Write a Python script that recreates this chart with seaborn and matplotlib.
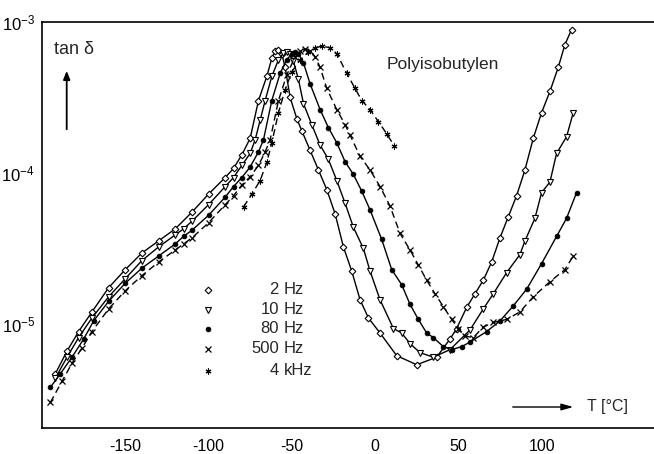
import numpy as np
import pandas as pd
import matplotlib
matplotlib.use("Agg")
import matplotlib.pyplot as plt
import seaborn as sns

sns.set_theme(style="white")
plt.rcParams["font.family"] = ["Liberation Sans", "DejaVu Sans"]
plt.rcParams["axes.unicode_minus"] = False

# ---- data: temperature [°C] and log10(tan delta) ----
T_2hz = [-192, -185, -178, -170, -160, -150, -140, -130, -120, -110, -100, -90, -85, -80,
         -75, -70, -65, -62, -60, -58, -56, -54, -51, -47, -44, -39, -34, -29, -24, -19, -14, -9,
         -4, 3, 13, 25, 37, 45, 49, 55, 60, 65, 70, 75, 80, 85, 90, 95, 100, 105, 110, 114, 118]
lg_2hz = [-5.33, -5.18, -5.05, -4.92, -4.76, -4.64, -4.53, -4.45, -4.37, -4.26, -4.14, -4.03, -3.97, -3.88,
          -3.77, -3.52, -3.36, -3.24, -3.195, -3.185, -3.21, -3.30, -3.50, -3.64, -3.72, -3.85, -3.98, -4.11, -4.27, -4.49, -4.65, -4.84,
          -4.96, -5.06, -5.21, -5.27, -5.22, -5.10, -5.03, -4.89, -4.80, -4.71, -4.59, -4.43, -4.29, -4.15, -3.98, -3.77,
          -3.60, -3.46, -3.30, -3.15, -3.05]

T_10hz = [-192, -185, -178, -170, -160, -150, -140, -130, -120, -115, -110, -100, -90, -85, -80, -75,
          -72, -69, -66, -62, -58, -55, -53, -51, -49, -46, -43, -38, -33, -28, -23, -18, -13, -7, -3, 3, 11,
          16, 21, 27, 35, 45, 57, 65, 71, 79, 87, 90, 96, 100, 105, 109, 115, 119]
lg_10hz = [-5.36, -5.22, -5.09, -4.96, -4.82, -4.70, -4.58, -4.49, -4.41, -4.37, -4.32, -4.21, -4.09, -4.03, -3.95, -3.87,
           -3.78, -3.65, -3.52, -3.36, -3.25, -3.205, -3.20, -3.21, -3.26, -3.38, -3.54, -3.68, -3.815, -3.91, -4.05, -4.20, -4.36, -4.50, -4.65, -4.84, -5.03,
           -5.06, -5.13, -5.19, -5.22, -5.17, -5.04, -4.90, -4.80, -4.66, -4.54, -4.45, -4.30, -4.13, -4.06, -3.87, -3.76, -3.60]

T_80hz = [-195, -189, -182, -175, -169, -160, -150, -140, -130, -120, -115, -110, -100, -90, -85, -80,
          -75, -70, -67, -62, -57, -53, -50, -48, -46, -43, -39, -33, -28, -23, -18, -13, -8, -3, 4, 10, 16,
          21, 26, 31, 35, 41, 46, 52, 57, 67, 75, 83, 91, 100, 109, 115, 121]
lg_80hz = [-5.42, -5.33, -5.22, -5.10, -4.98, -4.85, -4.73, -4.63, -4.55, -4.47, -4.42, -4.38, -4.28, -4.16, -4.09, -4.03,
           -3.96, -3.86, -3.78, -3.52, -3.34, -3.25, -3.21, -3.20, -3.21, -3.27, -3.41, -3.58, -3.70, -3.80, -3.925, -4.01, -4.12, -4.245, -4.44, -4.64, -4.74,
           -4.87, -4.97, -5.06, -5.09, -5.15, -5.17, -5.15, -5.12, -5.05, -4.98, -4.88, -4.77, -4.60, -4.42, -4.30, -4.13]

T_500hz = [-195, -188, -182, -176, -170, -160, -150, -140, -130, -120, -115, -110, -100, -90, -85, -80,
           -75, -70, -66, -63, -58, -53, -48, -45, -42, -39, -36, -33, -29, -23, -18, -15, -9, -3, 3, 9, 15,
           21, 26, 31, 36, 41, 46, 50, 54, 59, 65, 71, 79, 87, 95, 105, 114, 119]
lg_500hz = [-5.52, -5.38, -5.26, -5.16, -5.05, -4.90, -4.78, -4.68, -4.59, -4.51, -4.47, -4.43, -4.33, -4.21, -4.15, -4.08,
            -4.025, -3.95, -3.86, -3.78, -3.52, -3.35, -3.23, -3.19, -3.18, -3.19, -3.23, -3.30, -3.44, -3.58, -3.68, -3.75, -3.89, -3.98, -4.09, -4.22, -4.40,
            -4.51, -4.61, -4.71, -4.80, -4.885, -4.97, -5.03, -5.08, -5.09, -5.02, -4.99, -4.97, -4.92, -4.82, -4.72, -4.64, -4.55]

T_4khz = [-79, -74, -69, -65, -62, -58, -54, -50, -45, -40, -36, -32, -27, -23, -17, -12, -8, -3, 2, 7, 11.5]
lg_4khz = [-4.225, -4.14, -4.05, -3.93, -3.80, -3.60, -3.45, -3.33, -3.25, -3.20, -3.17, -3.16, -3.17, -3.21,
           -3.34, -3.44, -3.52, -3.58, -3.66, -3.74, -3.82]

freq_labels = ["2 Hz", "10 Hz", "80 Hz", "500 Hz", "4 kHz"]
x_ticks = [-150, -100, -50, 0, 50, 100]
y_ticks = [1e-5, 1e-4, 1e-3]
y_ticklabels = [r"$\mathregular{10^{-5}}$", r"$\mathregular{10^{-4}}$", r"$\mathregular{10^{-3}}$"]

series = {
    "2 Hz": (T_2hz, lg_2hz),
    "10 Hz": (T_10hz, lg_10hz),
    "80 Hz": (T_80hz, lg_80hz),
    "500 Hz": (T_500hz, lg_500hz),
    "4 kHz": (T_4khz, lg_4khz),
}
rows = []
for lab, (ts, ls) in series.items():
    for t, l in zip(ts, ls):
        rows.append({"T": t, "tan": 10.0 ** l, "freq": lab})
df = pd.DataFrame(rows)

styles = {
    "2 Hz": dict(marker="D", ms=3.4, mfc="white", mec="black", mew=0.8, linestyle="-"),
    "10 Hz": dict(marker="v", ms=4.6, mfc="white", mec="black", mew=0.8, linestyle="-"),
    "80 Hz": dict(marker="o", ms=3.4, mfc="black", mec="black", mew=0.6, linestyle="-"),
    "500 Hz": dict(marker="x", ms=3.8, mfc="black", mec="black", mew=0.9, linestyle=(0, (5, 3))),
    "4 kHz": dict(marker=(6, 2, 0), ms=4.2, mfc="black", mec="black", mew=0.8, linestyle=(0, (5, 3))),
}

fig = plt.figure(figsize=(6.54, 4.54), dpi=100)
ax = fig.add_axes([42 / 654, 1 - 428 / 454, 1 - 42 / 654, (428 - 22) / 454])

for lab in freq_labels:
    sub = df[df["freq"] == lab]
    sns.lineplot(data=sub, x="T", y="tan", ax=ax, color="black", lw=1.0,
                 sort=False, estimator=None, legend=False, **styles[lab])

ax.set_yscale("log")
ax.set_xlim(-200, 167.5)
ax.set_ylim(10 ** -5.689, 1e-3)
ax.set_xticks(x_ticks)
ax.set_xticklabels([str(v) for v in x_ticks], fontsize=11.5)
ax.set_yticks(y_ticks)
ax.set_yticklabels(y_ticklabels, fontsize=12)
ax.yaxis.set_minor_locator(matplotlib.ticker.NullLocator())
ax.tick_params(axis="both", which="major", direction="out", length=3, width=1.0,
               colors="black", pad=2)
ax.tick_params(axis="x", pad=5)
ax.set_xlabel("")
ax.set_ylabel("")
for side in ["left", "top", "bottom"]:
    ax.spines[side].set_visible(True)
    ax.spines[side].set_color("black")
    ax.spines[side].set_linewidth(1.2)
ax.spines["right"].set_visible(False)
ax.grid(False)

# manual legend: marker, number right aligned, unit left aligned
leg_y = [0.340, 0.291, 0.244, 0.195, 0.141]
for lab, yy in zip(freq_labels, leg_y):
    st = dict(styles[lab])
    st.pop("linestyle")
    ax.plot([0.271], [yy], transform=ax.transAxes, linestyle="none", clip_on=False, **st)
    num, unit = lab.split(" ")
    ax.text(0.387, yy, num, transform=ax.transAxes, ha="right", va="center", fontsize=12)
    ax.text(0.395, yy, unit, transform=ax.transAxes, ha="left", va="center", fontsize=12)

fig.text(387 / 654, 1 - 65 / 454, "Polyisobutylen", ha="left", va="center", fontsize=12.5)
fig.text(54 / 654, 1 - 49 / 454, "tan δ", ha="left", va="center", fontsize=13)
fig.text(587 / 654, 1 - 406 / 454, "T [°C]", ha="left", va="center", fontsize=11.5)

fig.patches.append(matplotlib.patches.FancyArrowPatch(
    (66.7 / 654, 1 - 132 / 454), (66.7 / 654, 1 - 68 / 454), transform=fig.transFigure,
    arrowstyle="-|>,head_length=5,head_width=2", color="black", lw=1.3, mutation_scale=1))
fig.patches.append(matplotlib.patches.FancyArrowPatch(
    (510 / 654, 1 - 407 / 454), (576 / 654, 1 - 407 / 454), transform=fig.transFigure,
    arrowstyle="-|>,head_length=7,head_width=2", color="black", lw=1.0, mutation_scale=1))

fig.savefig("out.png", dpi=100, facecolor="white")
